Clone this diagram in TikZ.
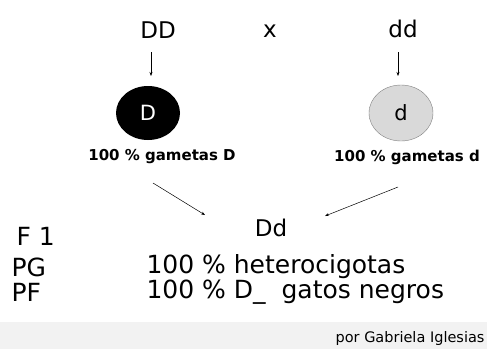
\documentclass[tikz,border=0pt]{standalone}
\usepackage{fontspec}
\setmainfont{DejaVu Sans}
\usetikzlibrary{arrows.meta,shapes.geometric}
\begin{document}
\begin{tikzpicture}[x=1pt,y=-1pt,
  big/.style={font=\fontsize{25}{28}\selectfont},
  mid/.style={font=\fontsize{23}{26}\selectfont},
  lbl/.style={font=\bfseries\fontsize{15}{17}\selectfont},
  arr/.style={-{Stealth[length=4pt,width=3pt]},line width=0.5pt}]
\useasboundingbox (0,0) rectangle (487,349);
\fill[gray!10] (0,322) rectangle (487,349);
\node[mid] (DD) at (158,30) {DD};
\node[mid] (x) at (270,31) {x};
\node[mid] (dd) at (403,29) {dd};
\node[ellipse,fill=black,minimum width=64pt,minimum height=54pt,inner sep=0pt,text=white,font=\fontsize{21}{24}\selectfont] (gD) at (148,113) {D};
\node[ellipse,fill=gray!30,draw=gray,minimum width=64pt,minimum height=56pt,inner sep=0pt,font=\fontsize{21}{24}\selectfont] (gd) at (401,113) {d};
\node[lbl] (tD) at (162,157) {100 \% gametas D};
\node[lbl] (td) at (407,157) {100 \% gametas d};
\node[mid] (Dd) at (271,228) {Dd};
\coordinate (a1) at (151,52); \coordinate (a2) at (151,76);
\coordinate (b1) at (398,52); \coordinate (b2) at (398,76);
\coordinate (c1) at (153,183); \coordinate (c2) at (205,215);
\coordinate (d1) at (398,187); \coordinate (d2) at (325,216);
\draw[arr] (a1) -- (a2);
\draw[arr] (b1) -- (b2);
\draw[arr] (c1) -- (c2);
\draw[arr] (d1) -- (d2);
\node[big,anchor=west] (F1) at (13,236) {F 1};
\node[big,anchor=west] (PG) at (8,267) {PG};
\node[big,anchor=west] (PF) at (8,292) {PF};
\node[big,anchor=west] (het) at (143,267) {100 \% heterocigotas};
\node[big,anchor=west] (neg) at (143,292) {100 \% D\_\hspace{16pt}gatos negros};
\node[font=\fontsize{14.5}{16}\selectfont,anchor=east] (por) at (488,338) {por Gabriela Iglesias};
\end{tikzpicture}
\end{document}
